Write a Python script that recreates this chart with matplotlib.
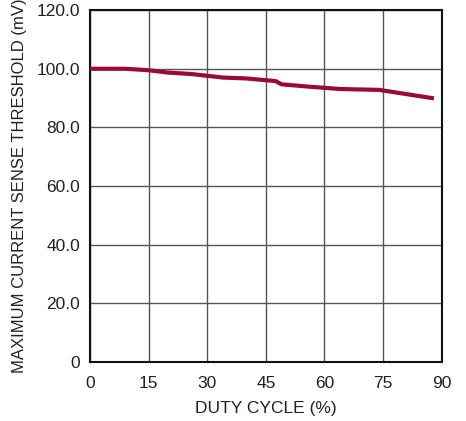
import matplotlib
matplotlib.use("Agg")
import matplotlib.pyplot as plt
from matplotlib import font_manager

names = {f.name for f in font_manager.fontManager.ttflist}
fam = ['Liberation Sans Narrow', 'Liberation Sans', 'DejaVu Sans'] if 'Liberation Sans Narrow' in names else ['Liberation Sans', 'DejaVu Sans']
plt.rcParams['font.family'] = fam

duty = [0, 9, 15, 20, 26, 34, 40, 47.5, 49, 56, 64, 74, 88]
thresh = [100.0, 100.0, 99.5, 98.7, 98.2, 97.0, 96.7, 95.8, 94.7, 93.9, 93.1, 92.8, 89.9]
xticks = [0, 15, 30, 45, 60, 75, 90]
yticks = [0, 20, 40, 60, 80, 100, 120]
ylabels = ['0', '20.0', '40.0', '60.0', '80.0', '100.0', '120.0']

fig = plt.figure(figsize=(4.66, 4.21), dpi=100)
ax = fig.add_axes([0.193, 0.140, 0.755, 0.836])
ax.plot(duty, thresh, color='#9a0a36', lw=3.0, solid_capstyle='butt', zorder=3)
ax.set_xlim(0, 90)
ax.set_ylim(0, 120)
ax.set_xticks(xticks)
ax.set_yticks(yticks)
ax.set_yticklabels(ylabels)
ax.grid(True, color='#555555', lw=1.0)
ax.tick_params(axis='both', length=0, labelsize=12.5, colors='#222222')
ax.tick_params(axis='x', pad=10)
ax.tick_params(axis='y', pad=7)
for s in ax.spines.values():
    s.set_linewidth(1.5)
    s.set_color('#111111')
ax.set_xlabel('DUTY CYCLE (%)', fontsize=12.5, color='#222222', labelpad=7)
ax.set_ylabel('MAXIMUM CURRENT SENSE THRESHOLD (mV)', fontsize=12, color='#222222', labelpad=7)
fig.savefig('out.png', dpi=100)
